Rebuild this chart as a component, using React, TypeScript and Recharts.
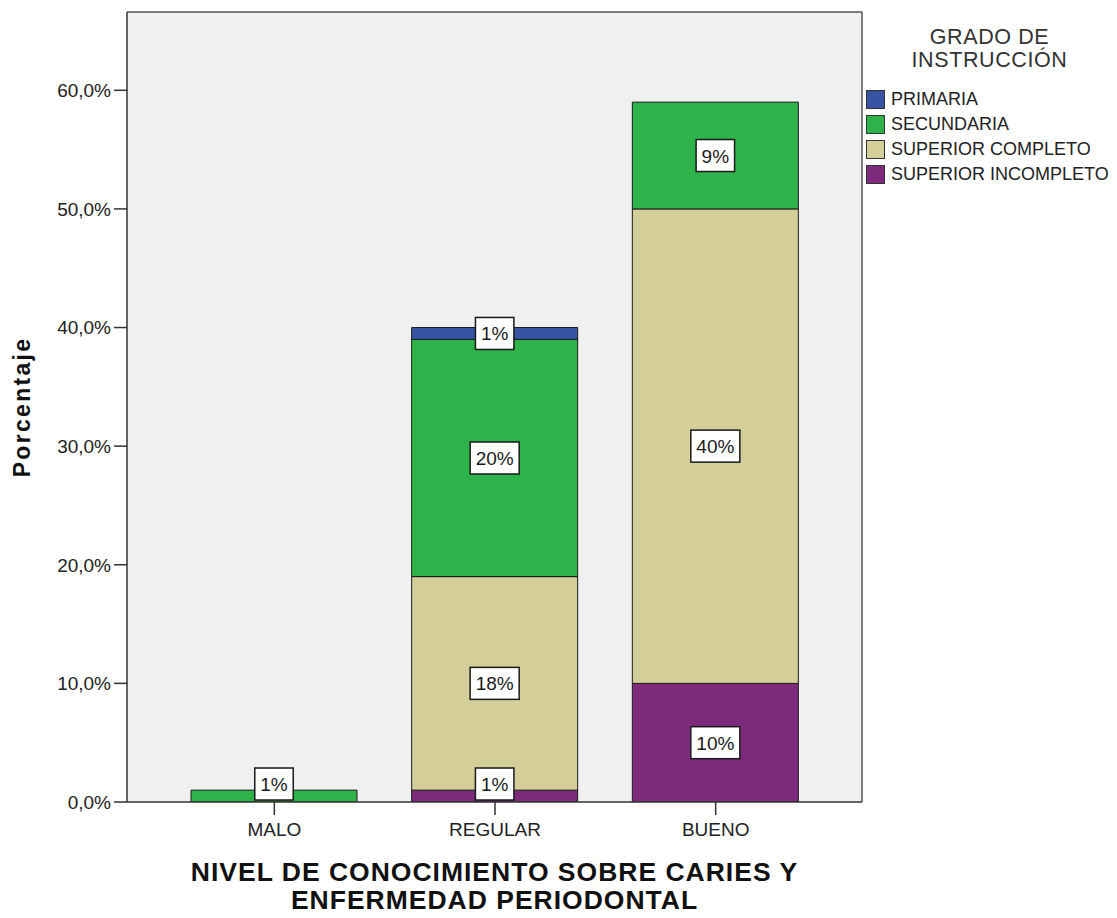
import React from 'react';
import { BarChart, Bar, XAxis, YAxis, CartesianGrid, LabelList, Legend } from 'recharts';

// Categories and percentages per education level (stacked bottom to top)
const categories = ['MALO', 'REGULAR', 'BUENO'];
const superiorIncompleto = [null, 1, 10];
const superiorCompleto = [null, 18, 40];
const secundaria = [1, 20, 9];
const primaria = [null, 1, null];
const yTicks = [0, 10, 20, 30, 40, 50, 60];
const Y_MAX = 66.6;

const legendTitle = ['GRADO DE', 'INSTRUCCIÓN'];
const xTitle = ['NIVEL DE CONOCIMIENTO SOBRE CARIES Y', 'ENFERMEDAD PERIODONTAL'];
const yTitle = 'Porcentaje';

const series = [
  { key: 'superiorIncompleto', name: 'SUPERIOR INCOMPLETO', color: '#7d2a7c', values: superiorIncompleto },
  { key: 'superiorCompleto', name: 'SUPERIOR COMPLETO', color: '#d4ce98', values: superiorCompleto },
  { key: 'secundaria', name: 'SECUNDARIA', color: '#2db34a', values: secundaria },
  { key: 'primaria', name: 'PRIMARIA', color: '#3953a4', values: primaria },
];

const data = categories.map((name, i) => {
  const row: Record<string, any> = { name };
  series.forEach((s) => {
    row[s.key] = s.values[i];
  });
  return row;
});

const FONT = "Arial, 'Liberation Sans', sans-serif";
const CHART_W = 1117;
const CHART_H = 918;
const MARGIN = { top: 12, right: 255, bottom: 76, left: 0 };
const X_AXIS_H = 40;
const Y_AXIS_W = 127;
const PLOT_BOTTOM = CHART_H - MARGIN.bottom - X_AXIS_H;

const formatPct = (v: number) => `${v.toFixed(1).replace('.', ',')}%`;

// White boxed value label centred on a segment, kept inside the plot area
function SegmentLabel(props: any) {
  const vb = props.viewBox && props.viewBox.width !== undefined ? props.viewBox : props;
  const { x, y, width, height } = vb;
  const value = props.value;
  if (value == null || value === 0) return null;
  const text = `${value}%`;
  const fs = 19;
  const textW = (String(value).length * 0.556 + 0.889) * fs;
  const w = textW + 11;
  const h = 32;
  const cx = x + width / 2;
  let cy = y + height / 2;
  cy = Math.min(cy, PLOT_BOTTOM - h / 2 - 2);
  return (
    <g>
      <rect x={cx - w / 2} y={cy - h / 2} width={w} height={h} fill="#ffffff" stroke="#1a1a1a" strokeWidth={1.5} />
      <text x={cx} y={cy + 7} textAnchor="middle" fontSize={fs} fontFamily={FONT} fill="#1a1a1a">
        {text}
      </text>
    </g>
  );
}

function YTitle(props: any) {
  const vb = props.viewBox;
  const cx = 22;
  const cy = vb.y + vb.height / 2;
  return (
    <text
      x={cx}
      y={cy}
      transform={`rotate(-90 ${cx} ${cy})`}
      textAnchor="middle"
      dominantBaseline="central"
      fontSize={23}
      fontWeight="bold"
      letterSpacing={2.3}
      fontFamily={FONT}
      fill="#111"
    >
      {yTitle}
    </text>
  );
}

function XTitle(props: any) {
  const vb = props.viewBox;
  const cx = vb.x + vb.width / 2;
  return (
    <text textAnchor="middle" fontSize={26.5} fontWeight="bold" letterSpacing={1} fontFamily={FONT} fill="#111">
      {xTitle.map((line, i) => (
        <tspan key={i} x={cx} y={PLOT_BOTTOM + 79 + i * 27.5}>
          {line}
        </tspan>
      ))}
    </text>
  );
}

function LegendBox() {
  const items = [...series].reverse();
  return (
    <div style={{ fontFamily: FONT, width: 255 }}>
      <div
        style={{
          textAlign: 'center',
          fontSize: 21.5,
          lineHeight: '23px',
          letterSpacing: 0.6,
          color: '#333',
          paddingTop: 26,
        }}
      >
        {legendTitle.map((l, i) => (
          <div key={i}>{l}</div>
        ))}
      </div>
      <div style={{ marginTop: 15, paddingLeft: 4 }}>
        {items.map((s) => (
          <div key={s.key} style={{ display: 'flex', alignItems: 'center', height: 25 }}>
            <span
              style={{
                display: 'inline-block',
                width: 17,
                height: 17,
                background: s.color,
                border: '1px solid #333',
                marginRight: 6,
              }}
            />
            <span style={{ fontSize: 18, color: '#222', whiteSpace: 'nowrap' }}>{s.name}</span>
          </div>
        ))}
      </div>
    </div>
  );
}

export default function App() {
  return (
    <div style={{ position: 'absolute', left: 0, top: 0, width: CHART_W, height: CHART_H, background: '#fff' }}>
      <BarChart width={CHART_W} height={CHART_H} data={data} margin={MARGIN} barSize={166}>
        {/* plot background plus its top and right frame lines */}
        <CartesianGrid
          fill="#f0f0f0"
          stroke="#555"
          strokeWidth={1.5}
          horizontalCoordinatesGenerator={(p: any) => [p.offset.top]}
          verticalCoordinatesGenerator={(p: any) => [p.offset.left + p.offset.width]}
        />
        <XAxis
          dataKey="name"
          height={X_AXIS_H}
          padding={{ left: 37, right: 36 }}
          tickSize={13}
          tickMargin={8}
          tick={{ fontSize: 19, fill: '#222', fontFamily: FONT }}
          axisLine={{ stroke: '#333', strokeWidth: 1.5 }}
          tickLine={{ stroke: '#333', strokeWidth: 1.5 }}
          label={<XTitle />}
        />
        <YAxis
          width={Y_AXIS_W}
          domain={[0, Y_MAX]}
          ticks={yTicks}
          allowDataOverflow
          tickFormatter={formatPct}
          tickSize={13}
          tickMargin={3}
          tick={{ fontSize: 19, fill: '#222', fontFamily: FONT }}
          axisLine={{ stroke: '#333', strokeWidth: 1.5 }}
          tickLine={{ stroke: '#333', strokeWidth: 1.5 }}
          label={<YTitle />}
        />
        {series.map((s) => (
          <Bar key={s.key} dataKey={s.key} name={s.name} stackId="a" fill={s.color} stroke="#1a1a1a" strokeWidth={1} isAnimationActive={false}>
            <LabelList dataKey={s.key} content={<SegmentLabel />} />
          </Bar>
        ))}
        <Legend
          layout="horizontal"
          align="center"
          verticalAlign="middle"
          wrapperStyle={{ left: 862, top: 0, width: 255 }}
          content={() => <LegendBox />}
        />
      </BarChart>
    </div>
  );
}
